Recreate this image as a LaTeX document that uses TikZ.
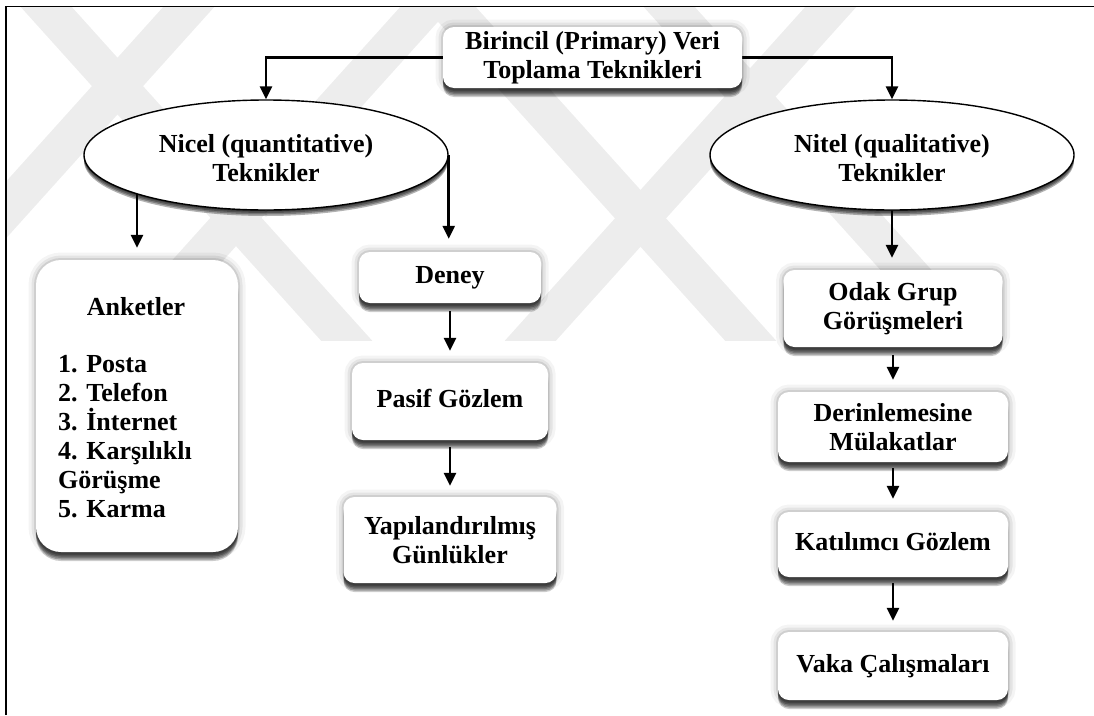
\documentclass[tikz,border=0pt]{standalone}
\usepackage{fontspec}
\setmainfont{Liberation Serif}
\usetikzlibrary{arrows.meta,shapes.geometric}
\pgfdeclarelayer{wm}
\pgfdeclarelayer{bg}
\pgfsetlayers{wm,bg,main}

\begin{document}
\begin{tikzpicture}[x=1pt,y=-1pt,
  font=\fontsize{26}{29}\selectfont\bfseries,
  cardshadow/.style={
    preaction={draw=black,draw opacity=0.045,line width=15pt},
    preaction={draw=black,draw opacity=0.065,line width=9pt},
    preaction={draw=black,draw opacity=0.09,line width=4pt},
    preaction={fill=black, fill opacity=0.22, transform canvas={yshift=-3pt}},
    preaction={fill=black, fill opacity=0.22, transform canvas={yshift=-4.5pt}},
    preaction={fill=black, fill opacity=0.22, transform canvas={yshift=-6pt}},
    preaction={fill=black, fill opacity=0.22, transform canvas={yshift=-7.5pt}},
    preaction={fill=black, fill opacity=0.2, transform canvas={yshift=-9pt}}},
  ovalshadow/.style={
    preaction={fill=black, fill opacity=0.3, transform canvas={yshift=-1.5pt}},
    preaction={fill=black, fill opacity=0.3, transform canvas={yshift=-3pt}},
    preaction={fill=black, fill opacity=0.3, transform canvas={yshift=-4.5pt}},
    preaction={fill=black, fill opacity=0.3, transform canvas={yshift=-6pt}}},
  card/.style={rectangle, rounded corners=11pt, fill=white, inner sep=0pt,
    align=center, cardshadow},
  oneline/.style={text height=17pt, text depth=5pt},
  oval/.style={ellipse, draw=black, line width=1.4pt, fill=white, inner sep=0pt,
    align=center, minimum width=364pt, minimum height=110pt, ovalshadow},
  arr/.style={line width=2.6pt, -{Triangle[length=13pt,width=12pt]}},
  wmband/.style={line width=38pt, draw=black!7},
  lbl/.style={inner sep=0pt},
]
\useasboundingbox (0,0) rectangle (1094,715);

% faint watermark stripes
\begin{pgfonlayer}{wm}
  \begin{scope}
    \clip (6,6) rectangle (1094,340);
    \foreach \c in {40,444,663}
      \draw[wmband] (\c-27,-30) -- (\c+360,400);
    \foreach \c in {195,432,837}
      \draw[wmband] (\c+27,-30) -- (\c-360,400);
  \end{scope}
\end{pgfonlayer}

% frame
\draw[line width=1.7pt] (6,715) -- (6,6.5) -- (1094,6.5);

% main nodes
\node[card, minimum width=299pt, minimum height=61pt] (top) at (592.5,57.5)
  {Birincil (Primary) Veri\\Toplama Teknikleri};
\node[oval] (nicel) at (266,155) {\rule{0pt}{24pt}Nicel (quantitative)\\Teknikler};
\node[oval] (nitel) at (892,155) {\rule{0pt}{24pt}Nitel (qualitative)\\Teknikler};

% left column: surveys
\node[card, rounded corners=25pt, minimum width=202pt, minimum height=292pt] (ank) at (137,406) {};
\node[lbl, anchor=base] (ankhead) at (136,315) {Anketler};
\node[lbl, anchor=north west, align=left] (anklist) at (58,355)
  {\rule{0pt}{17pt}1. Posta\\2. Telefon\\3. İnternet\\4. Karşılıklı\\Görüşme\\5. Karma};

% middle column
\node[card, oneline, minimum width=182pt, minimum height=51pt] (deney) at (450,277.5) {Deney};
\node[card, oneline, minimum width=196pt, minimum height=77pt] (pasif) at (450,401.5) {Pasif Gözlem};
\node[card, minimum width=213pt, minimum height=86pt] (yap) at (450,540)
  {Yapılandırılmış\\Günlükler};

% right column
\node[card, minimum width=219pt, minimum height=77pt] (odak) at (893,308.5)
  {Odak Grup\\Görüşmeleri};
\node[card, minimum width=230pt, minimum height=70pt] (derin) at (893,427)
  {Derinlemesine\\Mülakatlar};
\node[card, oneline, minimum width=230pt, minimum height=65pt] (katil) at (893,544.5)
  {Katılımcı Gözlem};
\node[card, oneline, minimum width=230pt, minimum height=68pt] (vaka) at (893,666)
  {Vaka Çalışmaları};

% connectors
\begin{pgfonlayer}{bg}
  \draw[arr] (top.west) -| (nicel.north);
  \draw[arr] (top.east) -| (nitel.north);
  \draw[arr, shorten >=12pt] (ank.north |- nicel.center) -- (ank.north);
  \draw[arr, shorten >=13pt] (nicel.east) -- (nicel.east |- deney.north);
  \draw[arr, shorten >=12pt] (nitel.center) -- (nitel.center |- odak.north);
  \draw[arr, shorten <=8pt, shorten >=12pt] (deney.south) -- (pasif.north);
  \draw[arr, shorten <=7pt, shorten >=11pt] (pasif.south) -- (yap.north);
  \draw[arr, shorten <=8pt, shorten >=12pt] (odak.south) -- (derin.north);
  \draw[arr, shorten <=6pt, shorten >=13pt] (derin.south) -- (katil.north);
  \draw[arr, shorten <=6pt, shorten >=11pt] (katil.south) -- (vaka.north);
\end{pgfonlayer}
\end{tikzpicture}
\end{document}
